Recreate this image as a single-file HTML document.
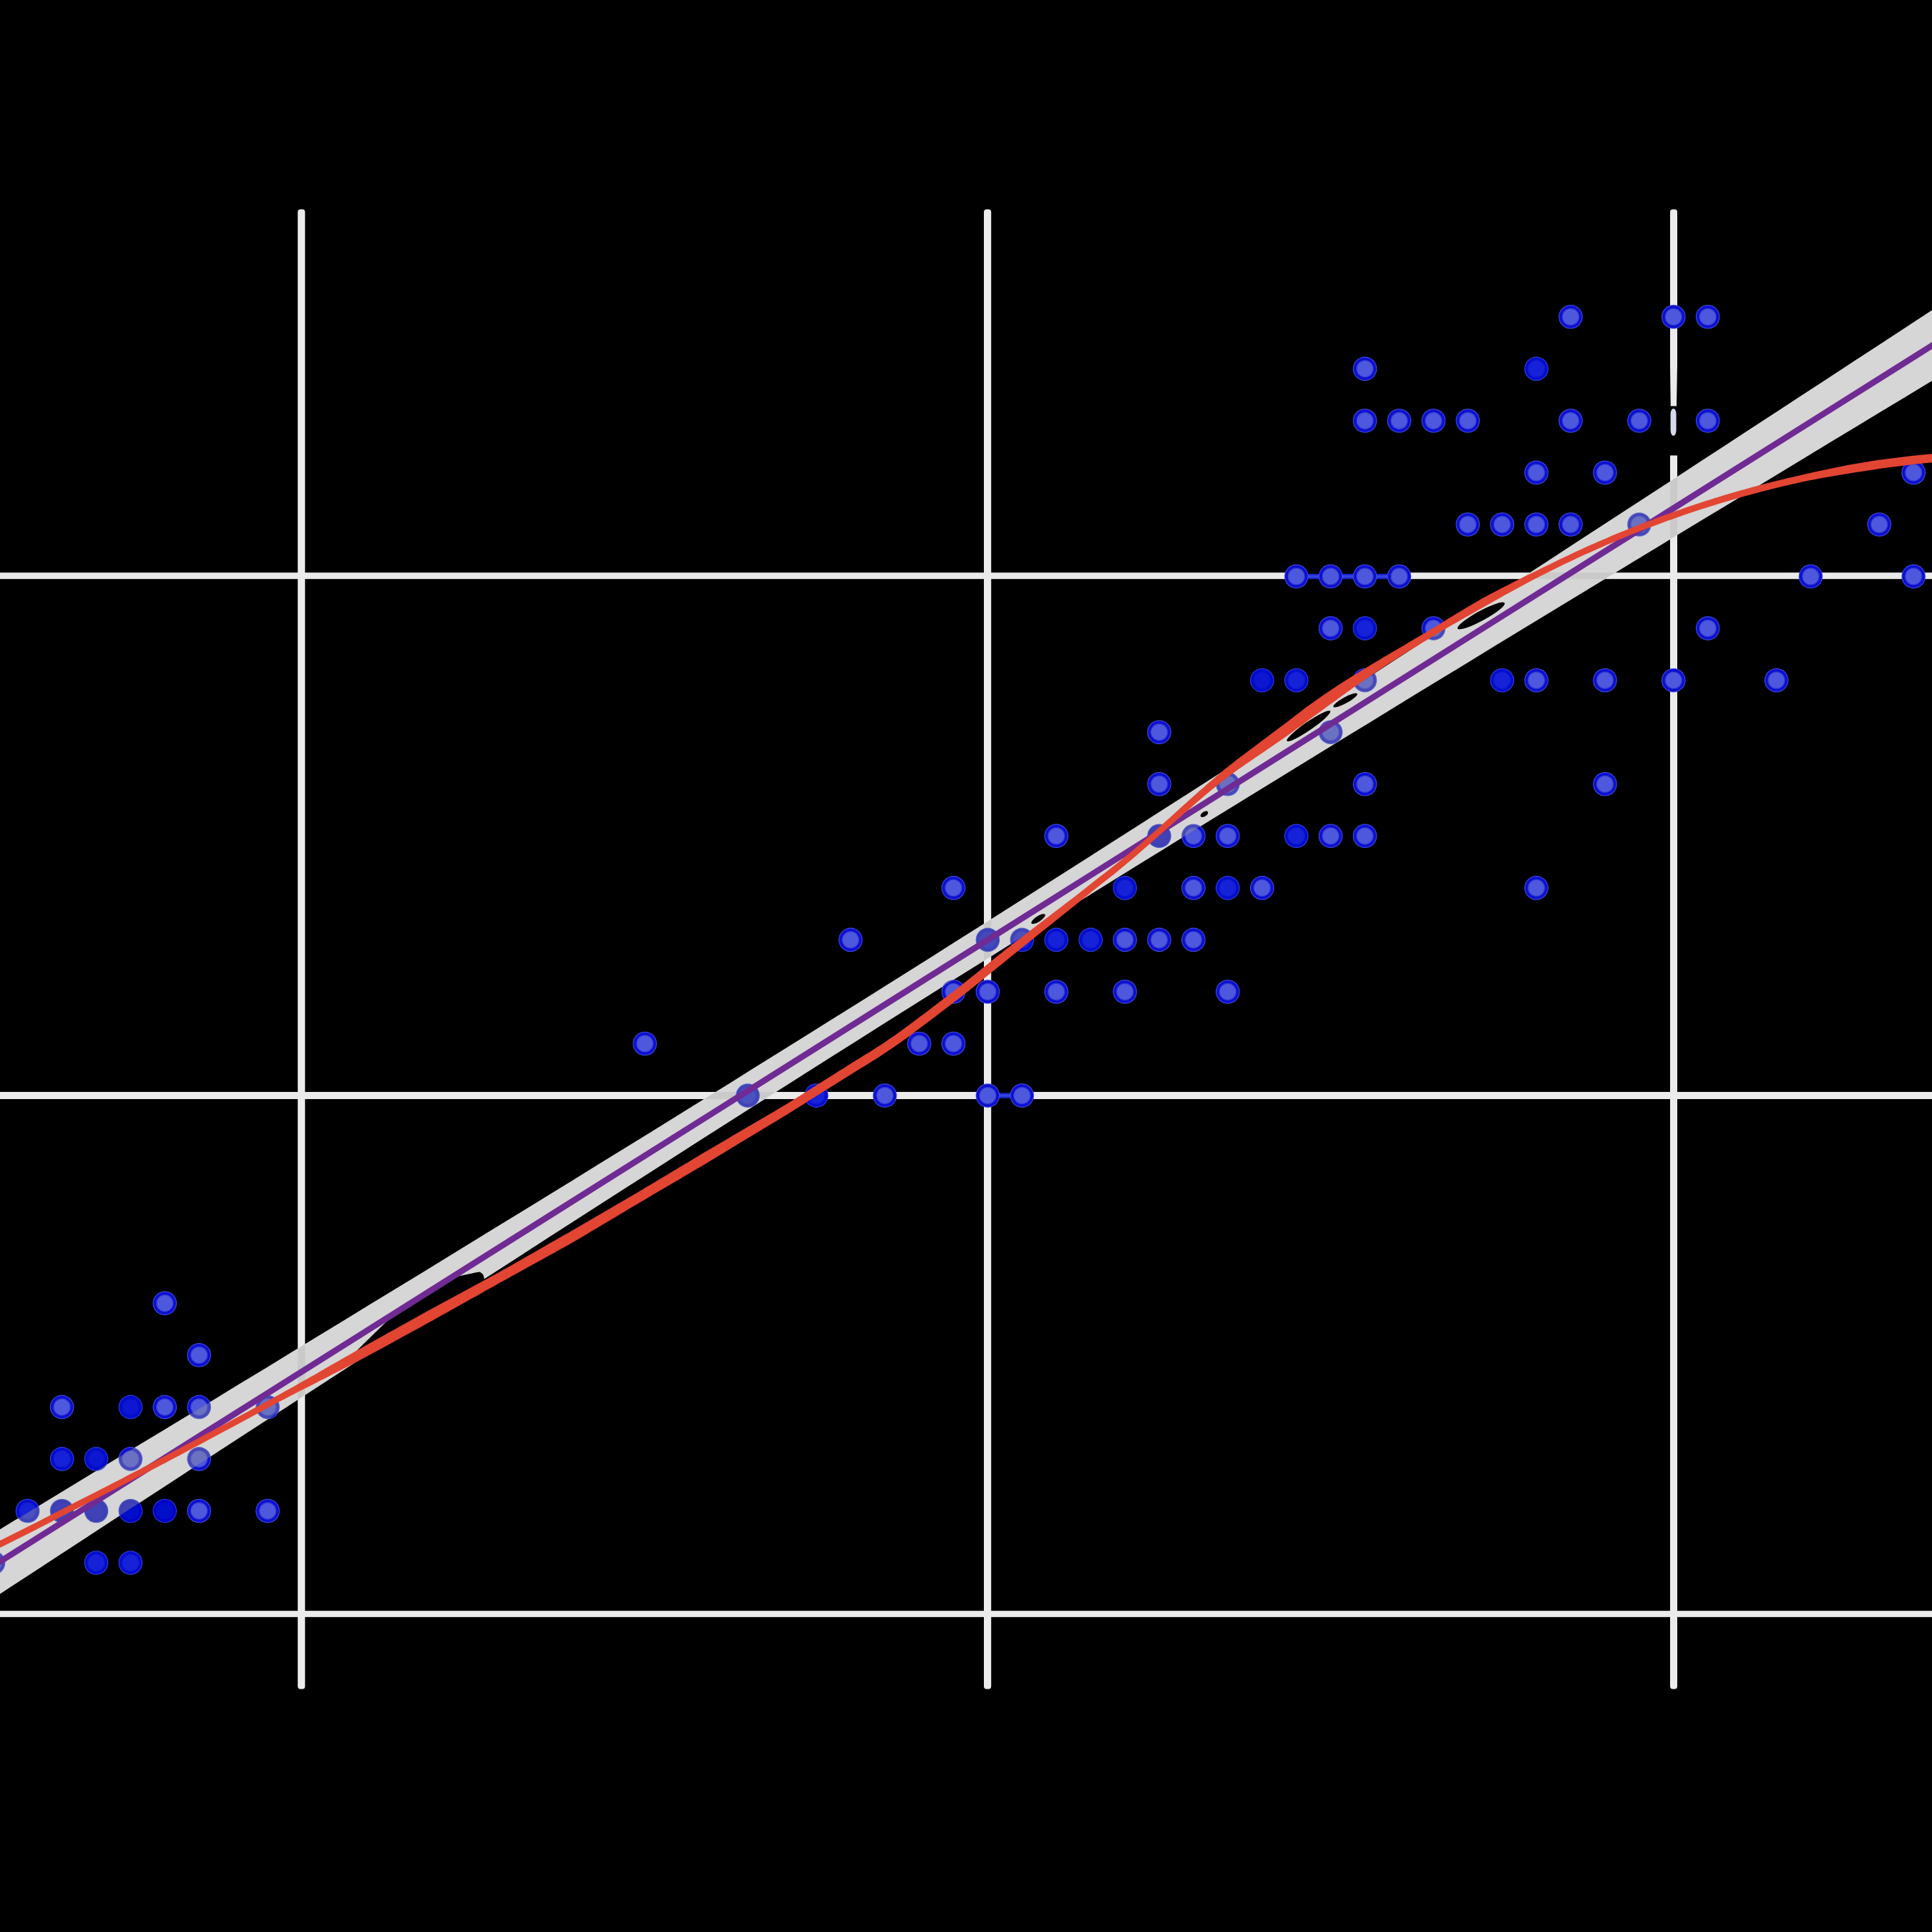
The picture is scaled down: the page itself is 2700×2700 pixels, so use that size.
<!DOCTYPE html>
<html><head><meta charset="utf-8"><title>chart</title>
<style>html,body{margin:0;padding:0;background:#000;width:2700px;height:2700px;overflow:hidden;font-family:"Liberation Sans",sans-serif}svg{display:block}</style></head>
<body>
<svg width="2700" height="2700" viewBox="0 0 2700 2700">
<defs>
<clipPath id="bandclip"><polygon points="-57.2,2171.9 -21.4,2150.3 14.4,2128.6 50.2,2106.9 86.0,2085.2 121.7,2063.5 157.5,2041.8 193.3,2020.1 229.1,1998.4 264.9,1976.7 300.7,1954.9 336.5,1933.1 372.3,1911.4 408.0,1889.6 443.8,1867.8 479.6,1846.0 515.4,1824.1 551.2,1802.3 587.0,1780.4 622.8,1758.5 658.6,1736.6 694.4,1714.6 730.1,1692.7 765.9,1670.7 801.7,1648.7 837.5,1626.6 873.3,1604.5 909.1,1582.4 944.9,1560.3 980.7,1538.1 1016.5,1515.9 1052.2,1493.6 1088.0,1471.3 1123.8,1449.0 1159.6,1426.6 1195.4,1404.2 1231.2,1381.7 1267.0,1359.2 1302.8,1336.7 1338.5,1314.1 1374.3,1291.4 1410.1,1268.8 1445.9,1246.0 1481.7,1223.3 1517.5,1200.5 1553.3,1177.6 1589.1,1154.7 1624.9,1131.8 1660.6,1108.9 1696.4,1085.9 1732.2,1062.9 1768.0,1039.9 1803.8,1016.8 1839.6,993.7 1875.4,970.6 1911.2,947.4 1946.9,924.3 1982.7,901.1 2018.5,877.9 2054.3,854.7 2090.1,831.4 2125.9,808.2 2161.7,784.9 2197.5,761.6 2233.3,738.3 2269.0,715.0 2304.8,691.7 2340.6,668.4 2376.4,645.0 2412.2,621.7 2448.0,598.3 2483.8,575.0 2519.6,551.6 2555.3,528.2 2591.1,504.8 2626.9,481.4 2662.7,458.0 2698.5,434.6 2734.3,411.2 2770.1,387.8 2770.1,489.7 2734.3,511.4 2698.5,533.0 2662.7,554.7 2626.9,576.3 2591.1,598.0 2555.3,619.6 2519.6,641.3 2483.8,663.0 2448.0,684.7 2412.2,706.4 2376.4,728.1 2340.6,749.8 2304.8,771.5 2269.0,793.2 2233.3,815.0 2197.5,836.7 2161.7,858.5 2125.9,880.3 2090.1,902.1 2054.3,923.9 2018.5,945.8 1982.7,967.6 1946.9,989.5 1911.2,1011.4 1875.4,1033.3 1839.6,1055.2 1803.8,1077.2 1768.0,1099.2 1732.2,1121.2 1696.4,1143.2 1660.6,1165.3 1624.9,1187.4 1589.1,1209.5 1553.3,1231.7 1517.5,1253.9 1481.7,1276.2 1445.9,1298.5 1410.1,1320.8 1374.3,1343.2 1338.5,1365.6 1302.8,1388.1 1267.0,1410.6 1231.2,1433.1 1195.4,1455.7 1159.6,1478.3 1123.8,1501.0 1088.0,1523.7 1052.2,1546.5 1016.5,1569.3 980.7,1592.1 944.9,1615.0 909.1,1637.9 873.3,1660.8 837.5,1683.8 801.7,1706.8 765.9,1729.8 730.1,1752.9 694.4,1776.0 658.6,1799.1 622.8,1822.2 587.0,1845.4 551.2,1868.6 515.4,1891.8 479.6,1915.0 443.8,1938.2 408.0,1961.5 372.3,1984.8 336.5,2008.0 300.7,2031.3 264.9,2054.6 229.1,2077.9 193.3,2101.3 157.5,2124.6 121.7,2148.0 86.0,2171.3 50.2,2194.7 14.4,2218.1 -21.4,2241.4 -57.2,2264.8"/></clipPath>
<filter id="soft" filterUnits="userSpaceOnUse" x="-40" y="-40" width="2780" height="2780"><feGaussianBlur stdDeviation="0.7"/></filter>
<radialGradient id="p1" cx="0.5" cy="0.5" r="0.5"><stop offset="0" stop-color="#4E58DC"/><stop offset="0.62" stop-color="#4E58DC"/><stop offset="0.76" stop-color="#0C10CF"/><stop offset="0.90" stop-color="#0C10CF"/><stop offset="0.965" stop-color="#3D4CE4"/><stop offset="1" stop-color="#3D4CE4"/></radialGradient>
<radialGradient id="p2" cx="0.5" cy="0.5" r="0.5"><stop offset="0" stop-color="#1822D7"/><stop offset="0.62" stop-color="#1822D7"/><stop offset="0.76" stop-color="#060BCC"/><stop offset="0.90" stop-color="#060BCC"/><stop offset="0.965" stop-color="#3040E0"/><stop offset="1" stop-color="#3040E0"/></radialGradient>
<radialGradient id="p3" cx="0.5" cy="0.5" r="0.5"><stop offset="0" stop-color="#0A14D0"/><stop offset="0.62" stop-color="#0A14D0"/><stop offset="0.76" stop-color="#0307C8"/><stop offset="0.90" stop-color="#0307C8"/><stop offset="0.965" stop-color="#2C3CDC"/><stop offset="1" stop-color="#2C3CDC"/></radialGradient>
<radialGradient id="p4" cx="0.5" cy="0.5" r="0.5"><stop offset="0" stop-color="#0409C9"/><stop offset="0.62" stop-color="#0409C9"/><stop offset="0.76" stop-color="#0205C6"/><stop offset="0.90" stop-color="#0205C6"/><stop offset="0.965" stop-color="#2838DA"/><stop offset="1" stop-color="#2838DA"/></radialGradient>
</defs>
<rect x="0" y="0" width="2700" height="2700" fill="#000"/>
<g filter="url(#soft)">
<g id="grid">
<rect x="-20" y="800.20" width="2740" height="9.00" fill="#EBEBEB"/>
<rect x="-20" y="1526.00" width="2740" height="10.00" fill="#EBEBEB"/>
<rect x="-20" y="2251.15" width="2740" height="8.70" fill="#EBEBEB"/>
<rect x="416.10" y="292.5" width="10.20" height="2068.0" rx="4" ry="4" fill="#EBEBEB"/>
<rect x="1375.00" y="292.5" width="10.20" height="2068.0" rx="4" ry="4" fill="#EBEBEB"/>
<rect x="2334.00" y="292.5" width="10.00" height="2068.0" rx="4" ry="4" fill="#EBEBEB"/>
</g>
<polygon points="-57.2,2171.9 -21.4,2150.3 14.4,2128.6 50.2,2106.9 86.0,2085.2 121.7,2063.5 157.5,2041.8 193.3,2020.1 229.1,1998.4 264.9,1976.7 300.7,1954.9 336.5,1933.1 372.3,1911.4 408.0,1889.6 443.8,1867.8 479.6,1846.0 515.4,1824.1 551.2,1802.3 587.0,1780.4 622.8,1758.5 658.6,1736.6 694.4,1714.6 730.1,1692.7 765.9,1670.7 801.7,1648.7 837.5,1626.6 873.3,1604.5 909.1,1582.4 944.9,1560.3 980.7,1538.1 1016.5,1515.9 1052.2,1493.6 1088.0,1471.3 1123.8,1449.0 1159.6,1426.6 1195.4,1404.2 1231.2,1381.7 1267.0,1359.2 1302.8,1336.7 1338.5,1314.1 1374.3,1291.4 1410.1,1268.8 1445.9,1246.0 1481.7,1223.3 1517.5,1200.5 1553.3,1177.6 1589.1,1154.7 1624.9,1131.8 1660.6,1108.9 1696.4,1085.9 1732.2,1062.9 1768.0,1039.9 1803.8,1016.8 1839.6,993.7 1875.4,970.6 1911.2,947.4 1946.9,924.3 1982.7,901.1 2018.5,877.9 2054.3,854.7 2090.1,831.4 2125.9,808.2 2161.7,784.9 2197.5,761.6 2233.3,738.3 2269.0,715.0 2304.8,691.7 2340.6,668.4 2376.4,645.0 2412.2,621.7 2448.0,598.3 2483.8,575.0 2519.6,551.6 2555.3,528.2 2591.1,504.8 2626.9,481.4 2662.7,458.0 2698.5,434.6 2734.3,411.2 2770.1,387.8 2770.1,489.7 2734.3,511.4 2698.5,533.0 2662.7,554.7 2626.9,576.3 2591.1,598.0 2555.3,619.6 2519.6,641.3 2483.8,663.0 2448.0,684.7 2412.2,706.4 2376.4,728.1 2340.6,749.8 2304.8,771.5 2269.0,793.2 2233.3,815.0 2197.5,836.7 2161.7,858.5 2125.9,880.3 2090.1,902.1 2054.3,923.9 2018.5,945.8 1982.7,967.6 1946.9,989.5 1911.2,1011.4 1875.4,1033.3 1839.6,1055.2 1803.8,1077.2 1768.0,1099.2 1732.2,1121.2 1696.4,1143.2 1660.6,1165.3 1624.9,1187.4 1589.1,1209.5 1553.3,1231.7 1517.5,1253.9 1481.7,1276.2 1445.9,1298.5 1410.1,1320.8 1374.3,1343.2 1338.5,1365.6 1302.8,1388.1 1267.0,1410.6 1231.2,1433.1 1195.4,1455.7 1159.6,1478.3 1123.8,1501.0 1088.0,1523.7 1052.2,1546.5 1016.5,1569.3 980.7,1592.1 944.9,1615.0 909.1,1637.9 873.3,1660.8 837.5,1683.8 801.7,1706.8 765.9,1729.8 730.1,1752.9 694.4,1776.0 658.6,1799.1 622.8,1822.2 587.0,1845.4 551.2,1868.6 515.4,1891.8 479.6,1915.0 443.8,1938.2 408.0,1961.5 372.3,1984.8 336.5,2008.0 300.7,2031.3 264.9,2054.6 229.1,2077.9 193.3,2101.3 157.5,2124.6 121.7,2148.0 86.0,2171.3 50.2,2194.7 14.4,2218.1 -21.4,2241.4 -57.2,2264.8" fill="#FFFFFF"/>
<g clip-path="url(#bandclip)">
<rect x="-20" y="800.20" width="2740" height="9.00" fill="#EBEBEB"/>
<rect x="-20" y="1526.00" width="2740" height="10.00" fill="#EBEBEB"/>
<rect x="-20" y="2251.15" width="2740" height="8.70" fill="#EBEBEB"/>
<rect x="416.10" y="292.5" width="10.20" height="2068.0" rx="4" ry="4" fill="#EBEBEB"/>
<rect x="1375.00" y="292.5" width="10.20" height="2068.0" rx="4" ry="4" fill="#EBEBEB"/>
<rect x="2334.00" y="292.5" width="10.00" height="2068.0" rx="4" ry="4" fill="#EBEBEB"/>
</g>
<g id="connectors">
<rect x="1811.7" y="799.0" width="143.8" height="11.4" fill="#000"/>
<rect x="1811.7" y="801.9" width="143.8" height="7.4" fill="#1C28D2"/>
<rect x="1811.7" y="804.0" width="143.8" height="3.2" fill="#3444DA"/>
<rect x="1380.4" y="1524.8" width="47.9" height="12.4" fill="#000"/>
<rect x="1380.4" y="1527.4" width="47.9" height="7.4" fill="#1C28D2"/>
<rect x="1380.4" y="1529.5" width="47.9" height="3.2" fill="#3444DA"/>
<rect x="2328" y="567.5" width="22" height="69" fill="#000"/>
<rect x="2334.6" y="571" width="8" height="38" rx="4" ry="8" fill="#D6DAEC"/>
<polygon points="2328,500 2333.8,500 2334.8,567.5 2328,567.5" fill="#000"/>
<polygon points="2350,500 2344.2,500 2343.0,567.5 2350,567.5" fill="#000"/>
</g>
<g id="points">
<circle cx="-9.3" cy="2184.0" r="16.8" fill="url(#p1)"/>
<circle cx="134.5" cy="2184.0" r="16.8" fill="url(#p2)"/>
<circle cx="182.4" cy="2184.0" r="16.8" fill="url(#p2)"/>
<circle cx="38.6" cy="2111.5" r="16.8" fill="url(#p2)"/>
<circle cx="86.6" cy="2111.5" r="16.8" fill="url(#p4)"/>
<circle cx="134.5" cy="2111.5" r="16.8" fill="url(#p4)"/>
<circle cx="182.4" cy="2111.5" r="16.8" fill="url(#p4)"/>
<circle cx="230.3" cy="2111.5" r="16.8" fill="url(#p4)"/>
<circle cx="278.2" cy="2111.5" r="16.8" fill="url(#p1)"/>
<circle cx="374.1" cy="2111.5" r="16.8" fill="url(#p1)"/>
<circle cx="86.6" cy="2038.9" r="16.8" fill="url(#p2)"/>
<circle cx="134.5" cy="2038.9" r="16.8" fill="url(#p3)"/>
<circle cx="182.4" cy="2038.9" r="16.8" fill="url(#p1)"/>
<circle cx="278.2" cy="2038.9" r="16.8" fill="url(#p1)"/>
<circle cx="86.6" cy="1966.4" r="16.8" fill="url(#p1)"/>
<circle cx="182.4" cy="1966.4" r="16.8" fill="url(#p3)"/>
<circle cx="230.3" cy="1966.4" r="16.8" fill="url(#p1)"/>
<circle cx="278.2" cy="1966.4" r="16.8" fill="url(#p1)"/>
<circle cx="374.1" cy="1966.4" r="16.8" fill="url(#p1)"/>
<circle cx="278.2" cy="1893.8" r="16.8" fill="url(#p1)"/>
<circle cx="230.3" cy="1821.3" r="16.8" fill="url(#p1)"/>
<circle cx="1045.0" cy="1531.1" r="16.8" fill="url(#p2)"/>
<circle cx="1140.8" cy="1531.1" r="16.8" fill="url(#p2)"/>
<circle cx="1236.6" cy="1531.1" r="16.8" fill="url(#p1)"/>
<circle cx="1380.4" cy="1531.1" r="16.8" fill="url(#p1)"/>
<circle cx="1428.3" cy="1531.1" r="16.8" fill="url(#p1)"/>
<circle cx="901.2" cy="1458.5" r="16.8" fill="url(#p1)"/>
<circle cx="1284.6" cy="1458.5" r="16.8" fill="url(#p1)"/>
<circle cx="1332.5" cy="1458.5" r="16.8" fill="url(#p1)"/>
<circle cx="1332.5" cy="1386.0" r="16.8" fill="url(#p1)"/>
<circle cx="1380.4" cy="1386.0" r="16.8" fill="url(#p1)"/>
<circle cx="1476.2" cy="1386.0" r="16.8" fill="url(#p1)"/>
<circle cx="1572.1" cy="1386.0" r="16.8" fill="url(#p1)"/>
<circle cx="1715.8" cy="1386.0" r="16.8" fill="url(#p1)"/>
<circle cx="1188.7" cy="1313.4" r="16.8" fill="url(#p1)"/>
<circle cx="1380.4" cy="1313.4" r="16.8" fill="url(#p3)"/>
<circle cx="1428.3" cy="1313.4" r="16.8" fill="url(#p2)"/>
<circle cx="1476.2" cy="1313.4" r="16.8" fill="url(#p2)"/>
<circle cx="1524.2" cy="1313.4" r="16.8" fill="url(#p2)"/>
<circle cx="1572.1" cy="1313.4" r="16.8" fill="url(#p1)"/>
<circle cx="1620.0" cy="1313.4" r="16.8" fill="url(#p1)"/>
<circle cx="1667.9" cy="1313.4" r="16.8" fill="url(#p1)"/>
<circle cx="1332.5" cy="1240.9" r="16.8" fill="url(#p1)"/>
<circle cx="1572.1" cy="1240.9" r="16.8" fill="url(#p2)"/>
<circle cx="1667.9" cy="1240.9" r="16.8" fill="url(#p1)"/>
<circle cx="1715.8" cy="1240.9" r="16.8" fill="url(#p2)"/>
<circle cx="1763.8" cy="1240.9" r="16.8" fill="url(#p1)"/>
<circle cx="2147.1" cy="1240.9" r="16.8" fill="url(#p1)"/>
<circle cx="1476.2" cy="1168.3" r="16.8" fill="url(#p1)"/>
<circle cx="1620.0" cy="1168.3" r="16.8" fill="url(#p4)"/>
<circle cx="1667.9" cy="1168.3" r="16.8" fill="url(#p1)"/>
<circle cx="1715.8" cy="1168.3" r="16.8" fill="url(#p1)"/>
<circle cx="1811.7" cy="1168.3" r="16.8" fill="url(#p2)"/>
<circle cx="1859.6" cy="1168.3" r="16.8" fill="url(#p1)"/>
<circle cx="1907.5" cy="1168.3" r="16.8" fill="url(#p1)"/>
<circle cx="1620.0" cy="1095.8" r="16.8" fill="url(#p1)"/>
<circle cx="1715.8" cy="1095.8" r="16.8" fill="url(#p1)"/>
<circle cx="1907.5" cy="1095.8" r="16.8" fill="url(#p1)"/>
<circle cx="2243.0" cy="1095.8" r="16.8" fill="url(#p1)"/>
<circle cx="1620.0" cy="1023.2" r="16.8" fill="url(#p1)"/>
<circle cx="1859.6" cy="1023.2" r="16.8" fill="url(#p1)"/>
<circle cx="1763.8" cy="950.7" r="16.8" fill="url(#p3)"/>
<circle cx="1811.7" cy="950.7" r="16.8" fill="url(#p2)"/>
<circle cx="1907.5" cy="950.7" r="16.8" fill="url(#p1)"/>
<circle cx="2099.2" cy="950.7" r="16.8" fill="url(#p2)"/>
<circle cx="2147.1" cy="950.7" r="16.8" fill="url(#p1)"/>
<circle cx="2243.0" cy="950.7" r="16.8" fill="url(#p1)"/>
<circle cx="2338.8" cy="950.7" r="16.8" fill="url(#p1)"/>
<circle cx="2482.6" cy="950.7" r="16.8" fill="url(#p1)"/>
<circle cx="1859.6" cy="878.1" r="16.8" fill="url(#p1)"/>
<circle cx="1907.5" cy="878.1" r="16.8" fill="url(#p2)"/>
<circle cx="2003.4" cy="878.1" r="16.8" fill="url(#p1)"/>
<circle cx="2386.7" cy="878.1" r="16.8" fill="url(#p1)"/>
<circle cx="1811.7" cy="805.6" r="16.8" fill="url(#p1)"/>
<circle cx="1859.6" cy="805.6" r="16.8" fill="url(#p1)"/>
<circle cx="1907.5" cy="805.6" r="16.8" fill="url(#p1)"/>
<circle cx="1955.4" cy="805.6" r="16.8" fill="url(#p1)"/>
<circle cx="2530.5" cy="805.6" r="16.8" fill="url(#p1)"/>
<circle cx="2674.2" cy="805.6" r="16.8" fill="url(#p1)"/>
<circle cx="2051.3" cy="733.0" r="16.8" fill="url(#p1)"/>
<circle cx="2099.2" cy="733.0" r="16.8" fill="url(#p1)"/>
<circle cx="2147.1" cy="733.0" r="16.8" fill="url(#p1)"/>
<circle cx="2195.0" cy="733.0" r="16.8" fill="url(#p1)"/>
<circle cx="2290.9" cy="733.0" r="16.8" fill="url(#p1)"/>
<circle cx="2626.3" cy="733.0" r="16.8" fill="url(#p1)"/>
<circle cx="2147.1" cy="660.5" r="16.8" fill="url(#p1)"/>
<circle cx="2243.0" cy="660.5" r="16.8" fill="url(#p1)"/>
<circle cx="2674.2" cy="660.5" r="16.8" fill="url(#p1)"/>
<circle cx="1907.5" cy="588.0" r="16.8" fill="url(#p1)"/>
<circle cx="1955.4" cy="588.0" r="16.8" fill="url(#p1)"/>
<circle cx="2003.4" cy="588.0" r="16.8" fill="url(#p1)"/>
<circle cx="2051.3" cy="588.0" r="16.8" fill="url(#p1)"/>
<circle cx="2195.0" cy="588.0" r="16.8" fill="url(#p1)"/>
<circle cx="2290.9" cy="588.0" r="16.8" fill="url(#p1)"/>
<circle cx="2386.7" cy="588.0" r="16.8" fill="url(#p1)"/>
<circle cx="1907.5" cy="515.4" r="16.8" fill="url(#p1)"/>
<circle cx="2147.1" cy="515.4" r="16.8" fill="url(#p2)"/>
<circle cx="2195.0" cy="442.8" r="16.8" fill="url(#p1)"/>
<circle cx="2338.8" cy="442.8" r="16.8" fill="url(#p1)"/>
<circle cx="2386.7" cy="442.8" r="16.8" fill="url(#p1)"/>
</g>
<polygon points="-57.2,2171.9 -21.4,2150.3 14.4,2128.6 50.2,2106.9 86.0,2085.2 121.7,2063.5 157.5,2041.8 193.3,2020.1 229.1,1998.4 264.9,1976.7 300.7,1954.9 336.5,1933.1 372.3,1911.4 408.0,1889.6 443.8,1867.8 479.6,1846.0 515.4,1824.1 551.2,1802.3 587.0,1780.4 622.8,1758.5 658.6,1736.6 694.4,1714.6 730.1,1692.7 765.9,1670.7 801.7,1648.7 837.5,1626.6 873.3,1604.5 909.1,1582.4 944.9,1560.3 980.7,1538.1 1016.5,1515.9 1052.2,1493.6 1088.0,1471.3 1123.8,1449.0 1159.6,1426.6 1195.4,1404.2 1231.2,1381.7 1267.0,1359.2 1302.8,1336.7 1338.5,1314.1 1374.3,1291.4 1410.1,1268.8 1445.9,1246.0 1481.7,1223.3 1517.5,1200.5 1553.3,1177.6 1589.1,1154.7 1624.9,1131.8 1660.6,1108.9 1696.4,1085.9 1732.2,1062.9 1768.0,1039.9 1803.8,1016.8 1839.6,993.7 1875.4,970.6 1911.2,947.4 1946.9,924.3 1982.7,901.1 2018.5,877.9 2054.3,854.7 2090.1,831.4 2125.9,808.2 2161.7,784.9 2197.5,761.6 2233.3,738.3 2269.0,715.0 2304.8,691.7 2340.6,668.4 2376.4,645.0 2412.2,621.7 2448.0,598.3 2483.8,575.0 2519.6,551.6 2555.3,528.2 2591.1,504.8 2626.9,481.4 2662.7,458.0 2698.5,434.6 2734.3,411.2 2770.1,387.8 2770.1,489.7 2734.3,511.4 2698.5,533.0 2662.7,554.7 2626.9,576.3 2591.1,598.0 2555.3,619.6 2519.6,641.3 2483.8,663.0 2448.0,684.7 2412.2,706.4 2376.4,728.1 2340.6,749.8 2304.8,771.5 2269.0,793.2 2233.3,815.0 2197.5,836.7 2161.7,858.5 2125.9,880.3 2090.1,902.1 2054.3,923.9 2018.5,945.8 1982.7,967.6 1946.9,989.5 1911.2,1011.4 1875.4,1033.3 1839.6,1055.2 1803.8,1077.2 1768.0,1099.2 1732.2,1121.2 1696.4,1143.2 1660.6,1165.3 1624.9,1187.4 1589.1,1209.5 1553.3,1231.7 1517.5,1253.9 1481.7,1276.2 1445.9,1298.5 1410.1,1320.8 1374.3,1343.2 1338.5,1365.6 1302.8,1388.1 1267.0,1410.6 1231.2,1433.1 1195.4,1455.7 1159.6,1478.3 1123.8,1501.0 1088.0,1523.7 1052.2,1546.5 1016.5,1569.3 980.7,1592.1 944.9,1615.0 909.1,1637.9 873.3,1660.8 837.5,1683.8 801.7,1706.8 765.9,1729.8 730.1,1752.9 694.4,1776.0 658.6,1799.1 622.8,1822.2 587.0,1845.4 551.2,1868.6 515.4,1891.8 479.6,1915.0 443.8,1938.2 408.0,1961.5 372.3,1984.8 336.5,2008.0 300.7,2031.3 264.9,2054.6 229.1,2077.9 193.3,2101.3 157.5,2124.6 121.7,2148.0 86.0,2171.3 50.2,2194.7 14.4,2218.1 -21.4,2241.4 -57.2,2264.8" fill="rgb(153,153,153)" fill-opacity="0.4"/>
<g id="blobs">
<ellipse cx="2069.9" cy="860.6" rx="37.4" ry="6.8" transform="rotate(-28.5 2069.9 860.6)" fill="#000"/>
<ellipse cx="1880.1" cy="978.6" rx="19.0" ry="4.2" transform="rotate(-28.7 1880.1 978.6)" fill="#000"/>
<ellipse cx="1828.8" cy="1014.6" rx="36.8" ry="5.8" transform="rotate(-34.6 1828.8 1014.6)" fill="#000"/>
<ellipse cx="1451.0" cy="1284.2" rx="11.4" ry="3.8" transform="rotate(-33.3 1451.0 1284.2)" fill="#000"/>
<ellipse cx="1683.0" cy="1137.8" rx="6.0" ry="3.2" transform="rotate(-33.0 1683.0 1137.8)" fill="#000"/>
<polygon points="499.0,1887.1 503.0,1883.2 507.0,1879.3 511.0,1875.3 515.0,1871.4 519.0,1867.5 523.0,1863.6 527.0,1859.7 531.0,1855.8 535.0,1851.9 539.0,1848.0 543.0,1844.7 547.0,1842.2 551.0,1839.7 555.0,1837.1 559.0,1834.6 563.0,1832.1 567.0,1829.6 571.0,1827.1 575.0,1824.5 579.0,1822.0 583.0,1819.5 587.0,1817.0 591.0,1814.5 595.0,1812.0 599.0,1809.4 603.0,1806.9 607.0,1804.4 611.0,1801.9 615.0,1799.4 619.0,1796.8 623.0,1794.3 627.0,1791.8 631.0,1789.3 635.0,1786.8 639.0,1784.3 643.0,1783.0 647.0,1782.2 651.0,1781.3 655.0,1780.5 659.0,1779.7 663.0,1778.8 667.0,1778.0 670.0,1777.5 673.0,1779.0 675.5,1782.0 676.5,1786.0 676.5,1790.7 667.0,1796.1 663.0,1798.2 659.0,1800.4 655.0,1802.6 651.0,1804.7 647.0,1806.9 643.0,1809.0 639.0,1811.2 635.0,1813.4 631.0,1815.5 627.0,1817.7 623.0,1819.8 619.0,1822.0 615.0,1824.1 611.0,1826.3 607.0,1828.5 603.0,1830.7 599.0,1832.9 595.0,1835.1 591.0,1837.3 587.0,1839.5 583.0,1841.7 579.0,1844.0 575.0,1846.2 571.0,1848.4 567.0,1850.7 563.0,1852.9 559.0,1855.1 555.0,1857.4 551.0,1859.6 547.0,1861.8 543.0,1864.1 539.0,1866.3 535.0,1868.5 531.0,1870.7 527.0,1873.0 523.0,1875.2 519.0,1877.4 515.0,1879.6 511.0,1881.9 507.0,1884.1 503.0,1886.4 499.0,1888.6" fill="#000"/>
</g>
<line x1="-57.2" y1="2218.4" x2="2770.1" y2="438.8" stroke="#6F2C94" stroke-width="8.6"/>
<polygon points="-58.0,2180.4 -52.0,2177.6 -46.0,2174.8 -40.0,2171.9 -34.0,2169.1 -28.0,2166.2 -22.0,2163.4 -16.0,2160.6 -10.0,2157.7 -4.0,2154.8 2.0,2151.9 8.0,2149.0 14.0,2146.0 20.0,2143.0 26.0,2140.0 32.0,2137.0 38.0,2134.0 44.0,2131.0 50.0,2127.9 56.0,2124.9 62.0,2121.8 68.0,2118.7 74.0,2115.6 80.0,2112.5 86.0,2109.4 92.0,2106.3 98.0,2103.2 104.0,2100.1 110.0,2097.1 116.0,2094.0 122.0,2090.9 128.0,2087.9 134.0,2084.9 140.0,2081.8 146.0,2078.7 152.0,2075.7 158.0,2072.6 164.0,2069.5 170.0,2066.4 176.0,2063.3 182.0,2060.1 188.0,2057.0 194.0,2053.9 200.0,2050.7 206.0,2047.6 212.0,2044.4 218.0,2041.3 224.0,2038.1 230.0,2035.0 236.0,2031.8 242.0,2028.6 248.0,2025.5 254.0,2022.3 260.0,2019.1 266.0,2015.9 272.0,2012.7 278.0,2009.5 284.0,2006.3 290.0,2003.1 296.0,1999.9 302.0,1996.6 308.0,1993.4 314.0,1990.2 320.0,1987.0 326.0,1983.8 332.0,1980.5 338.0,1977.3 344.0,1974.1 350.0,1970.8 356.0,1967.6 362.0,1964.3 368.0,1961.1 374.0,1957.8 380.0,1954.5 386.0,1951.2 392.0,1947.9 398.0,1944.6 404.0,1941.3 410.0,1937.9 416.0,1934.5 422.0,1931.1 428.0,1927.7 434.0,1924.3 440.0,1920.9 446.0,1917.4 452.0,1914.0 458.0,1910.6 464.0,1907.1 470.0,1903.7 476.0,1900.3 482.0,1896.8 488.0,1893.4 494.0,1890.0 500.0,1886.6 506.0,1883.2 512.0,1879.8 518.0,1876.5 524.0,1873.1 530.0,1869.8 536.0,1866.5 542.0,1863.1 548.0,1859.8 554.0,1856.4 560.0,1853.1 566.0,1849.7 572.0,1846.4 578.0,1843.0 584.0,1839.7 590.0,1836.3 596.0,1833.0 602.0,1829.7 608.0,1826.4 614.0,1823.2 620.0,1819.9 626.0,1816.7 632.0,1813.5 638.0,1810.2 644.0,1807.0 650.0,1803.8 656.0,1800.5 662.0,1797.3 668.0,1794.0 674.0,1790.8 680.0,1787.5 686.0,1784.3 692.0,1781.0 698.0,1777.7 704.0,1774.3 710.0,1771.0 716.0,1767.6 722.0,1764.1 728.0,1760.7 734.0,1757.3 740.0,1753.8 746.0,1750.4 752.0,1747.0 758.0,1743.5 764.0,1740.1 770.0,1736.6 776.0,1733.2 782.0,1729.8 788.0,1726.3 794.0,1722.9 800.0,1719.4 806.0,1715.9 812.0,1712.4 818.0,1708.9 824.0,1705.4 830.0,1701.9 836.0,1698.4 842.0,1694.9 848.0,1691.4 854.0,1687.9 860.0,1684.4 866.0,1680.9 872.0,1677.4 878.0,1673.9 884.0,1670.4 890.0,1666.9 896.0,1663.4 902.0,1659.8 908.0,1656.3 914.0,1652.7 920.0,1649.1 926.0,1645.5 932.0,1641.9 938.0,1638.3 944.0,1634.7 950.0,1631.1 956.0,1627.5 962.0,1623.9 968.0,1620.3 974.0,1616.7 980.0,1613.1 986.0,1609.6 992.0,1606.0 998.0,1602.5 1004.0,1598.9 1010.0,1595.4 1016.0,1591.9 1022.0,1588.3 1028.0,1584.8 1034.0,1581.3 1040.0,1577.8 1046.0,1574.2 1052.0,1570.7 1058.0,1567.2 1064.0,1563.7 1070.0,1560.2 1076.0,1556.7 1082.0,1553.2 1088.0,1549.6 1094.0,1546.0 1100.0,1542.4 1106.0,1538.7 1112.0,1535.0 1118.0,1531.2 1124.0,1527.4 1130.0,1523.6 1136.0,1519.8 1142.0,1516.0 1148.0,1512.2 1154.0,1508.5 1160.0,1504.7 1166.0,1500.9 1172.0,1497.1 1178.0,1493.4 1184.0,1489.6 1190.0,1485.8 1196.0,1482.1 1202.0,1478.4 1208.0,1474.6 1214.0,1470.9 1220.0,1467.2 1226.0,1463.3 1232.0,1459.4 1238.0,1455.4 1244.0,1451.3 1250.0,1447.2 1256.0,1442.9 1262.0,1438.6 1268.0,1434.3 1274.0,1429.8 1280.0,1425.3 1286.0,1420.8 1292.0,1416.2 1298.0,1411.7 1304.0,1407.1 1310.0,1402.5 1316.0,1398.0 1322.0,1393.4 1328.0,1388.8 1334.0,1384.2 1340.0,1379.5 1346.0,1374.8 1352.0,1370.0 1358.0,1365.2 1364.0,1360.4 1370.0,1355.6 1376.0,1350.7 1382.0,1345.8 1388.0,1341.0 1394.0,1336.1 1400.0,1331.4 1406.0,1326.6 1412.0,1321.9 1418.0,1317.2 1424.0,1312.6 1430.0,1308.0 1436.0,1303.4 1442.0,1298.8 1448.0,1294.2 1454.0,1289.6 1460.0,1285.0 1466.0,1280.4 1472.0,1275.8 1478.0,1271.3 1484.0,1266.7 1490.0,1262.1 1496.0,1257.5 1502.0,1252.9 1508.0,1248.2 1514.0,1243.4 1520.0,1238.7 1526.0,1233.9 1532.0,1229.2 1538.0,1224.5 1544.0,1219.9 1550.0,1215.3 1556.0,1210.6 1562.0,1205.8 1568.0,1201.0 1574.0,1196.1 1580.0,1191.1 1586.0,1186.0 1592.0,1180.8 1598.0,1175.6 1604.0,1170.3 1610.0,1165.0 1616.0,1159.6 1622.0,1154.3 1628.0,1148.8 1634.0,1143.4 1640.0,1138.0 1646.0,1132.5 1652.0,1127.1 1658.0,1121.7 1664.0,1116.3 1670.0,1111.0 1676.0,1105.6 1682.0,1100.4 1688.0,1095.1 1694.0,1090.0 1700.0,1084.8 1706.0,1079.8 1712.0,1074.8 1718.0,1070.0 1724.0,1065.2 1730.0,1060.5 1736.0,1055.9 1742.0,1051.4 1748.0,1047.0 1754.0,1042.5 1760.0,1038.0 1766.0,1033.5 1772.0,1029.1 1778.0,1024.6 1784.0,1020.1 1790.0,1015.6 1796.0,1011.0 1802.0,1006.4 1808.0,1001.8 1814.0,997.2 1820.0,992.6 1826.0,988.1 1832.0,983.7 1838.0,979.4 1844.0,975.2 1850.0,971.0 1856.0,967.0 1862.0,963.0 1868.0,959.0 1874.0,955.1 1880.0,951.3 1886.0,947.5 1892.0,943.8 1898.0,940.0 1904.0,936.3 1910.0,932.7 1916.0,929.0 1922.0,925.4 1928.0,921.9 1934.0,918.3 1940.0,914.8 1946.0,911.3 1952.0,907.8 1958.0,904.2 1964.0,900.7 1970.0,897.1 1976.0,893.6 1982.0,890.0 1988.0,886.5 1994.0,882.9 2000.0,879.3 2006.0,875.7 2012.0,872.0 2018.0,868.3 2024.0,864.6 2030.0,861.0 2036.0,857.3 2042.0,853.7 2048.0,850.0 2054.0,846.4 2060.0,842.9 2066.0,839.5 2072.0,836.1 2078.0,832.8 2084.0,829.6 2090.0,826.4 2096.0,823.3 2102.0,820.2 2108.0,817.2 2114.0,814.1 2120.0,811.1 2126.0,808.1 2132.0,805.1 2138.0,802.2 2144.0,799.2 2150.0,796.3 2156.0,793.3 2162.0,790.4 2168.0,787.5 2174.0,784.5 2180.0,781.6 2186.0,778.7 2192.0,775.9 2198.0,773.1 2204.0,770.3 2210.0,767.5 2216.0,764.8 2222.0,762.1 2228.0,759.5 2234.0,756.8 2240.0,754.2 2246.0,751.7 2252.0,749.1 2258.0,746.6 2264.0,744.1 2270.0,741.7 2276.0,739.2 2282.0,736.8 2288.0,734.5 2294.0,732.1 2300.0,729.8 2306.0,727.5 2312.0,725.2 2318.0,723.0 2324.0,720.8 2330.0,718.6 2336.0,716.4 2342.0,714.3 2348.0,712.2 2354.0,710.1 2360.0,708.1 2366.0,706.0 2372.0,704.0 2378.0,702.1 2384.0,700.1 2390.0,698.2 2396.0,696.3 2402.0,694.5 2408.0,692.6 2414.0,690.8 2420.0,689.0 2426.0,687.3 2432.0,685.6 2438.0,683.9 2444.0,682.2 2450.0,680.5 2456.0,678.9 2462.0,677.3 2468.0,675.8 2474.0,674.2 2480.0,672.7 2486.0,671.2 2492.0,669.7 2498.0,668.3 2504.0,666.9 2510.0,665.5 2516.0,664.2 2522.0,662.8 2528.0,661.5 2534.0,660.1 2540.0,658.8 2546.0,657.5 2552.0,656.2 2558.0,654.9 2564.0,653.7 2570.0,652.5 2576.0,651.3 2582.0,650.1 2588.0,649.0 2594.0,647.9 2600.0,646.9 2606.0,645.9 2612.0,644.9 2618.0,644.0 2624.0,643.1 2630.0,642.3 2636.0,641.5 2642.0,640.7 2648.0,639.9 2654.0,639.2 2660.0,638.5 2666.0,637.8 2672.0,637.1 2678.0,636.4 2684.0,635.8 2690.0,635.2 2696.0,634.7 2702.0,634.1 2708.0,633.6 2714.0,633.1 2720.0,632.6 2726.0,632.1 2732.0,631.7 2738.0,631.3 2744.0,630.9 2750.0,630.5 2756.0,630.2 2762.0,629.9 2768.0,629.6 2768.0,641.6 2762.0,641.9 2756.0,642.2 2750.0,642.5 2744.0,642.9 2738.0,643.3 2732.0,643.7 2726.0,644.1 2720.0,644.6 2714.0,645.1 2708.0,645.6 2702.0,646.1 2696.0,646.7 2690.0,647.3 2684.0,647.9 2678.0,648.6 2672.0,649.2 2666.0,649.9 2660.0,650.7 2654.0,651.4 2648.0,652.2 2642.0,653.0 2636.0,653.8 2630.0,654.6 2624.0,655.5 2618.0,656.4 2612.0,657.3 2606.0,658.2 2600.0,659.2 2594.0,660.1 2588.0,661.0 2582.0,662.0 2576.0,662.9 2570.0,663.9 2564.0,664.9 2558.0,665.9 2552.0,667.0 2546.0,668.1 2540.0,669.2 2534.0,670.4 2528.0,671.6 2522.0,672.8 2516.0,674.1 2510.0,675.5 2504.0,676.8 2498.0,678.2 2492.0,679.6 2486.0,681.1 2480.0,682.5 2474.0,684.0 2468.0,685.6 2462.0,687.1 2456.0,688.7 2450.0,690.3 2444.0,691.9 2438.0,693.6 2432.0,695.3 2426.0,697.0 2420.0,698.7 2414.0,700.5 2408.0,702.3 2402.0,704.1 2396.0,705.9 2390.0,707.8 2384.0,709.7 2378.0,711.6 2372.0,713.6 2366.0,715.6 2360.0,717.6 2354.0,719.6 2348.0,721.7 2342.0,723.8 2336.0,725.9 2330.0,728.0 2324.0,730.2 2318.0,732.4 2312.0,734.7 2306.0,736.9 2300.0,739.2 2294.0,741.6 2288.0,743.9 2282.0,746.3 2276.0,748.7 2270.0,751.2 2264.0,753.7 2258.0,756.2 2252.0,758.7 2246.0,761.3 2240.0,763.9 2234.0,766.5 2228.0,769.2 2222.0,771.9 2216.0,774.6 2210.0,777.3 2204.0,780.1 2198.0,782.9 2192.0,785.7 2186.0,788.6 2180.0,791.5 2174.0,794.4 2168.0,797.4 2162.0,800.4 2156.0,803.4 2150.0,806.5 2144.0,809.6 2138.0,812.7 2132.0,815.9 2126.0,819.2 2120.0,822.4 2114.0,825.7 2108.0,829.0 2102.0,832.3 2096.0,835.7 2090.0,839.0 2084.0,842.4 2078.0,845.8 2072.0,849.2 2066.0,852.6 2060.0,856.0 2054.0,859.4 2048.0,862.8 2042.0,866.2 2036.0,869.7 2030.0,873.1 2024.0,876.6 2018.0,880.1 2012.0,883.6 2006.0,887.2 2000.0,890.8 1994.0,894.4 1988.0,898.0 1982.0,901.7 1976.0,905.4 1970.0,909.1 1964.0,912.8 1958.0,916.6 1952.0,920.4 1946.0,924.2 1940.0,928.1 1934.0,932.0 1928.0,935.9 1922.0,939.9 1916.0,943.9 1910.0,948.0 1904.0,952.2 1898.0,956.4 1892.0,960.6 1886.0,964.9 1880.0,969.2 1874.0,973.6 1868.0,977.9 1862.0,982.3 1856.0,986.6 1850.0,991.0 1844.0,995.4 1838.0,999.7 1832.0,1004.1 1826.0,1008.5 1820.0,1012.9 1814.0,1017.3 1808.0,1021.6 1802.0,1025.9 1796.0,1030.2 1790.0,1034.4 1784.0,1038.6 1778.0,1042.7 1772.0,1046.8 1766.0,1050.9 1760.0,1055.0 1754.0,1059.1 1748.0,1063.2 1742.0,1067.3 1736.0,1071.4 1730.0,1075.6 1724.0,1080.0 1718.0,1084.4 1712.0,1088.9 1706.0,1093.6 1700.0,1098.4 1694.0,1103.2 1688.0,1108.2 1682.0,1113.3 1676.0,1118.4 1670.0,1123.6 1664.0,1128.9 1658.0,1134.1 1652.0,1139.4 1646.0,1144.7 1640.0,1150.0 1634.0,1155.3 1628.0,1160.6 1622.0,1165.9 1616.0,1171.2 1610.0,1176.5 1604.0,1181.7 1598.0,1187.0 1592.0,1192.2 1586.0,1197.4 1580.0,1202.5 1574.0,1207.6 1568.0,1212.6 1562.0,1217.5 1556.0,1222.4 1550.0,1227.1 1544.0,1231.8 1538.0,1236.5 1532.0,1241.3 1526.0,1246.1 1520.0,1250.9 1514.0,1255.8 1508.0,1260.6 1502.0,1265.4 1496.0,1270.2 1490.0,1275.1 1484.0,1279.8 1478.0,1284.6 1472.0,1289.4 1466.0,1294.2 1460.0,1299.0 1454.0,1303.8 1448.0,1308.6 1442.0,1313.4 1436.0,1318.3 1430.0,1323.1 1424.0,1327.9 1418.0,1332.8 1412.0,1337.6 1406.0,1342.5 1400.0,1347.4 1394.0,1352.2 1388.0,1357.1 1382.0,1361.9 1376.0,1366.8 1370.0,1371.7 1364.0,1376.5 1358.0,1381.3 1352.0,1386.0 1346.0,1390.7 1340.0,1395.4 1334.0,1400.1 1328.0,1404.7 1322.0,1409.3 1316.0,1413.8 1310.0,1418.4 1304.0,1422.9 1298.0,1427.5 1292.0,1432.0 1286.0,1436.5 1280.0,1441.0 1274.0,1445.5 1268.0,1449.9 1262.0,1454.2 1256.0,1458.5 1250.0,1462.7 1244.0,1466.8 1238.0,1470.8 1232.0,1474.8 1226.0,1478.7 1220.0,1482.5 1214.0,1486.2 1208.0,1489.9 1202.0,1493.6 1196.0,1497.3 1190.0,1501.0 1184.0,1504.7 1178.0,1508.5 1172.0,1512.2 1166.0,1516.0 1160.0,1519.8 1154.0,1523.5 1148.0,1527.3 1142.0,1531.1 1136.0,1534.8 1130.0,1538.6 1124.0,1542.4 1118.0,1546.2 1112.0,1549.9 1106.0,1553.7 1100.0,1557.4 1094.0,1561.1 1088.0,1564.7 1082.0,1568.4 1076.0,1572.0 1070.0,1575.6 1064.0,1579.2 1058.0,1582.8 1052.0,1586.5 1046.0,1590.1 1040.0,1593.7 1034.0,1597.3 1028.0,1601.0 1022.0,1604.6 1016.0,1608.2 1010.0,1611.9 1004.0,1615.5 998.0,1619.2 992.0,1622.8 986.0,1626.4 980.0,1630.0 974.0,1633.5 968.0,1637.1 962.0,1640.6 956.0,1644.1 950.0,1647.7 944.0,1651.2 938.0,1654.7 932.0,1658.2 926.0,1661.7 920.0,1665.3 914.0,1668.8 908.0,1672.3 902.0,1675.9 896.0,1679.4 890.0,1683.0 884.0,1686.6 878.0,1690.1 872.0,1693.7 866.0,1697.3 860.0,1700.9 854.0,1704.4 848.0,1708.0 842.0,1711.6 836.0,1715.2 830.0,1718.7 824.0,1722.3 818.0,1725.9 812.0,1729.4 806.0,1733.0 800.0,1736.4 794.0,1739.9 788.0,1743.2 782.0,1746.6 776.0,1749.9 770.0,1753.2 764.0,1756.6 758.0,1759.9 752.0,1763.2 746.0,1766.5 740.0,1769.8 734.0,1773.1 728.0,1776.5 722.0,1779.8 716.0,1783.1 710.0,1786.4 704.0,1789.7 698.0,1793.1 692.0,1796.4 686.0,1799.8 680.0,1803.1 674.0,1806.5 668.0,1809.9 662.0,1813.2 656.0,1816.6 650.0,1820.0 644.0,1823.3 638.0,1826.7 632.0,1830.0 626.0,1833.4 620.0,1836.7 614.0,1840.1 608.0,1843.4 602.0,1846.7 596.0,1850.1 590.0,1853.4 584.0,1856.7 578.0,1860.0 572.0,1863.3 566.0,1866.5 560.0,1869.8 554.0,1873.1 548.0,1876.4 542.0,1879.7 536.0,1883.0 530.0,1886.2 524.0,1889.5 518.0,1892.8 512.0,1896.0 506.0,1899.2 500.0,1902.4 494.0,1905.6 488.0,1908.7 482.0,1911.8 476.0,1914.9 470.0,1918.0 464.0,1921.1 458.0,1924.2 452.0,1927.2 446.0,1930.3 440.0,1933.4 434.0,1936.4 428.0,1939.5 422.0,1942.5 416.0,1945.6 410.0,1948.7 404.0,1951.8 398.0,1955.0 392.0,1958.1 386.0,1961.3 380.0,1964.6 374.0,1967.8 368.0,1971.1 362.0,1974.3 356.0,1977.6 350.0,1980.8 344.0,1984.0 338.0,1987.3 332.0,1990.5 326.0,1993.7 320.0,1996.9 314.0,2000.1 308.0,2003.3 302.0,2006.6 296.0,2009.8 290.0,2013.0 284.0,2016.2 278.0,2019.4 272.0,2022.6 266.0,2025.8 260.0,2029.0 254.0,2032.2 248.0,2035.4 242.0,2038.5 236.0,2041.7 230.0,2044.9 224.0,2048.0 218.0,2051.2 212.0,2054.3 206.0,2057.5 200.0,2060.6 194.0,2063.8 188.0,2066.9 182.0,2070.0 176.0,2073.2 170.0,2076.3 164.0,2079.4 158.0,2082.5 152.0,2085.6 146.0,2088.6 140.0,2091.7 134.0,2094.8 128.0,2097.8 122.0,2100.8 116.0,2103.9 110.0,2107.0 104.0,2110.0 98.0,2113.1 92.0,2116.2 86.0,2119.3 80.0,2122.4 74.0,2125.6 68.0,2128.7 62.0,2131.7 56.0,2134.8 50.0,2137.9 44.0,2140.9 38.0,2144.0 32.0,2147.0 26.0,2150.0 20.0,2153.0 14.0,2156.0 8.0,2158.9 2.0,2161.9 -4.0,2164.8 -10.0,2167.7 -16.0,2170.6 -22.0,2173.4 -28.0,2176.2 -34.0,2179.1 -40.0,2181.9 -46.0,2184.8 -52.0,2187.6 -58.0,2190.4" fill="#E24430"/>
</g>
</svg>
</body></html>
